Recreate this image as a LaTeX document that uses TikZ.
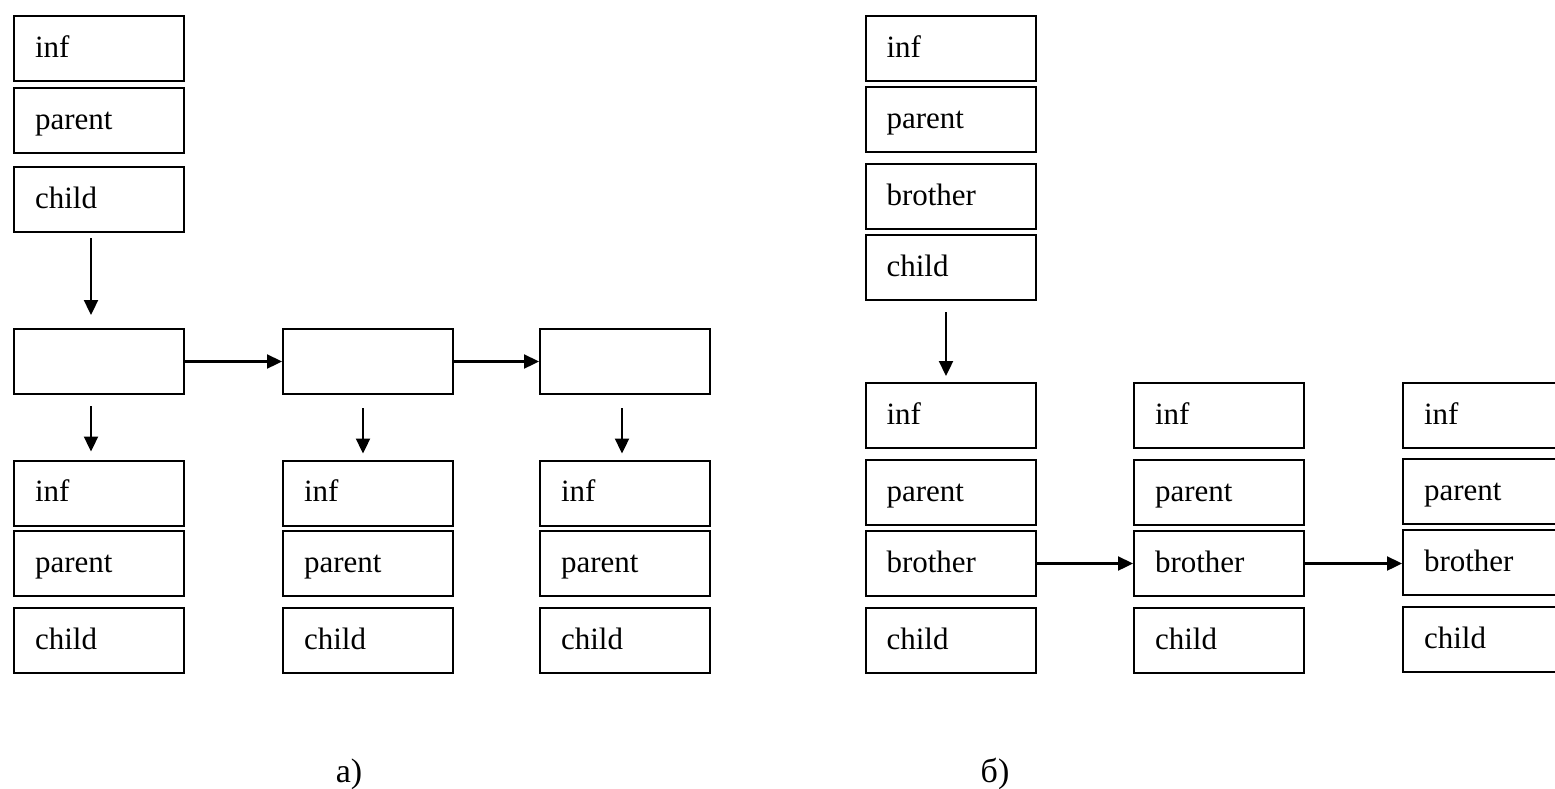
\documentclass[tikz,border=0pt]{standalone}
\usepackage{fontspec}
\setmainfont{Liberation Serif}
\usetikzlibrary{arrows.meta}
\begin{document}
\begin{tikzpicture}[x=1pt,y=-1pt,
  cell/.style={draw, line width=2pt, rectangle, minimum width=170pt, minimum height=65pt,
    inner xsep=21pt, inner ysep=0pt, text width=128pt, align=left,
    text height=24pt, text depth=7pt, font=\fontsize{31}{37}\selectfont},
  link/.style={line width=2.3pt, -{Triangle[length=15pt,width=14pt]}},
  figlabel/.style={font=\fontsize{34}{40}\selectfont, anchor=base}]
\useasboundingbox (0,0) rectangle (1555,788);
\clip (0,0) rectangle (1555,788);
% ---- a) ----
\node[cell] (a0i) at (99,48.5) {inf};
\node[cell] (a0p) at (99,120.5) {parent};
\node[cell] (a0c) at (99,199.5) {child};
\node[cell] (m1) at (99,361.5) {};
\node[cell] (m2) at (368,361.5) {};
\node[cell] (m3) at (625,361.5) {};
\node[cell] (a1i) at (99,493) {inf};
\node[cell] (a1p) at (99,563.5) {parent};
\node[cell] (a1c) at (99,640.5) {child};
\node[cell] (a2i) at (368,493) {inf};
\node[cell] (a2p) at (368,563.5) {parent};
\node[cell] (a2c) at (368,640.5) {child};
\node[cell] (a3i) at (625,493) {inf};
\node[cell] (a3p) at (625,563.5) {parent};
\node[cell] (a3c) at (625,640.5) {child};
\draw[link] ([xshift=-8pt,yshift=-5pt]a0c.south) -- ([xshift=-8pt,yshift=13pt]m1.north);
\draw[link] (m1.east) -- (m2.west);
\draw[link] (m2.east) -- (m3.west);
\draw[link] ([xshift=-8pt,yshift=-11pt]m1.south) -- ([xshift=-8pt,yshift=8pt]a1i.north);
\draw[link] ([xshift=-5pt,yshift=-13pt]m2.south) -- ([xshift=-5pt,yshift=6pt]a2i.north);
\draw[link] ([xshift=-3pt,yshift=-13pt]m3.south) -- ([xshift=-3pt,yshift=6pt]a3i.north);
\node[figlabel] (la) at (349,782) {а)};
% ---- б) ----
\node[cell] (b0i) at (950.5,48.5) {inf};
\node[cell] (b0p) at (950.5,119.5) {parent};
\node[cell] (b0b) at (950.5,196.5) {brother};
\node[cell] (b0c) at (950.5,267.5) {child};
\node[cell] (b1i) at (950.5,415.5) {inf};
\node[cell] (b1p) at (950.5,492.5) {parent};
\node[cell] (b1b) at (950.5,563.5) {brother};
\node[cell] (b1c) at (950.5,640.5) {child};
\node[cell] (b2i) at (1219,415.5) {inf};
\node[cell] (b2p) at (1219,492.5) {parent};
\node[cell] (b2b) at (1219,563.5) {brother};
\node[cell] (b2c) at (1219,640.5) {child};
\node[cell] (b3i) at (1488,415.5) {inf};
\node[cell] (b3p) at (1488,491.5) {parent};
\node[cell] (b3b) at (1488,562.5) {brother};
\node[cell] (b3c) at (1488,639.5) {child};
\draw[link] ([xshift=-4.5pt,yshift=-11pt]b0c.south) -- ([xshift=-4.5pt,yshift=6pt]b1i.north);
\draw[link] (b1b.east) -- (b2b.west);
\draw[link] (b2b.east) -- (b3b.west |- b2b.east);
\node[figlabel] (lb) at (995,782) {б)};
\end{tikzpicture}
\end{document}
